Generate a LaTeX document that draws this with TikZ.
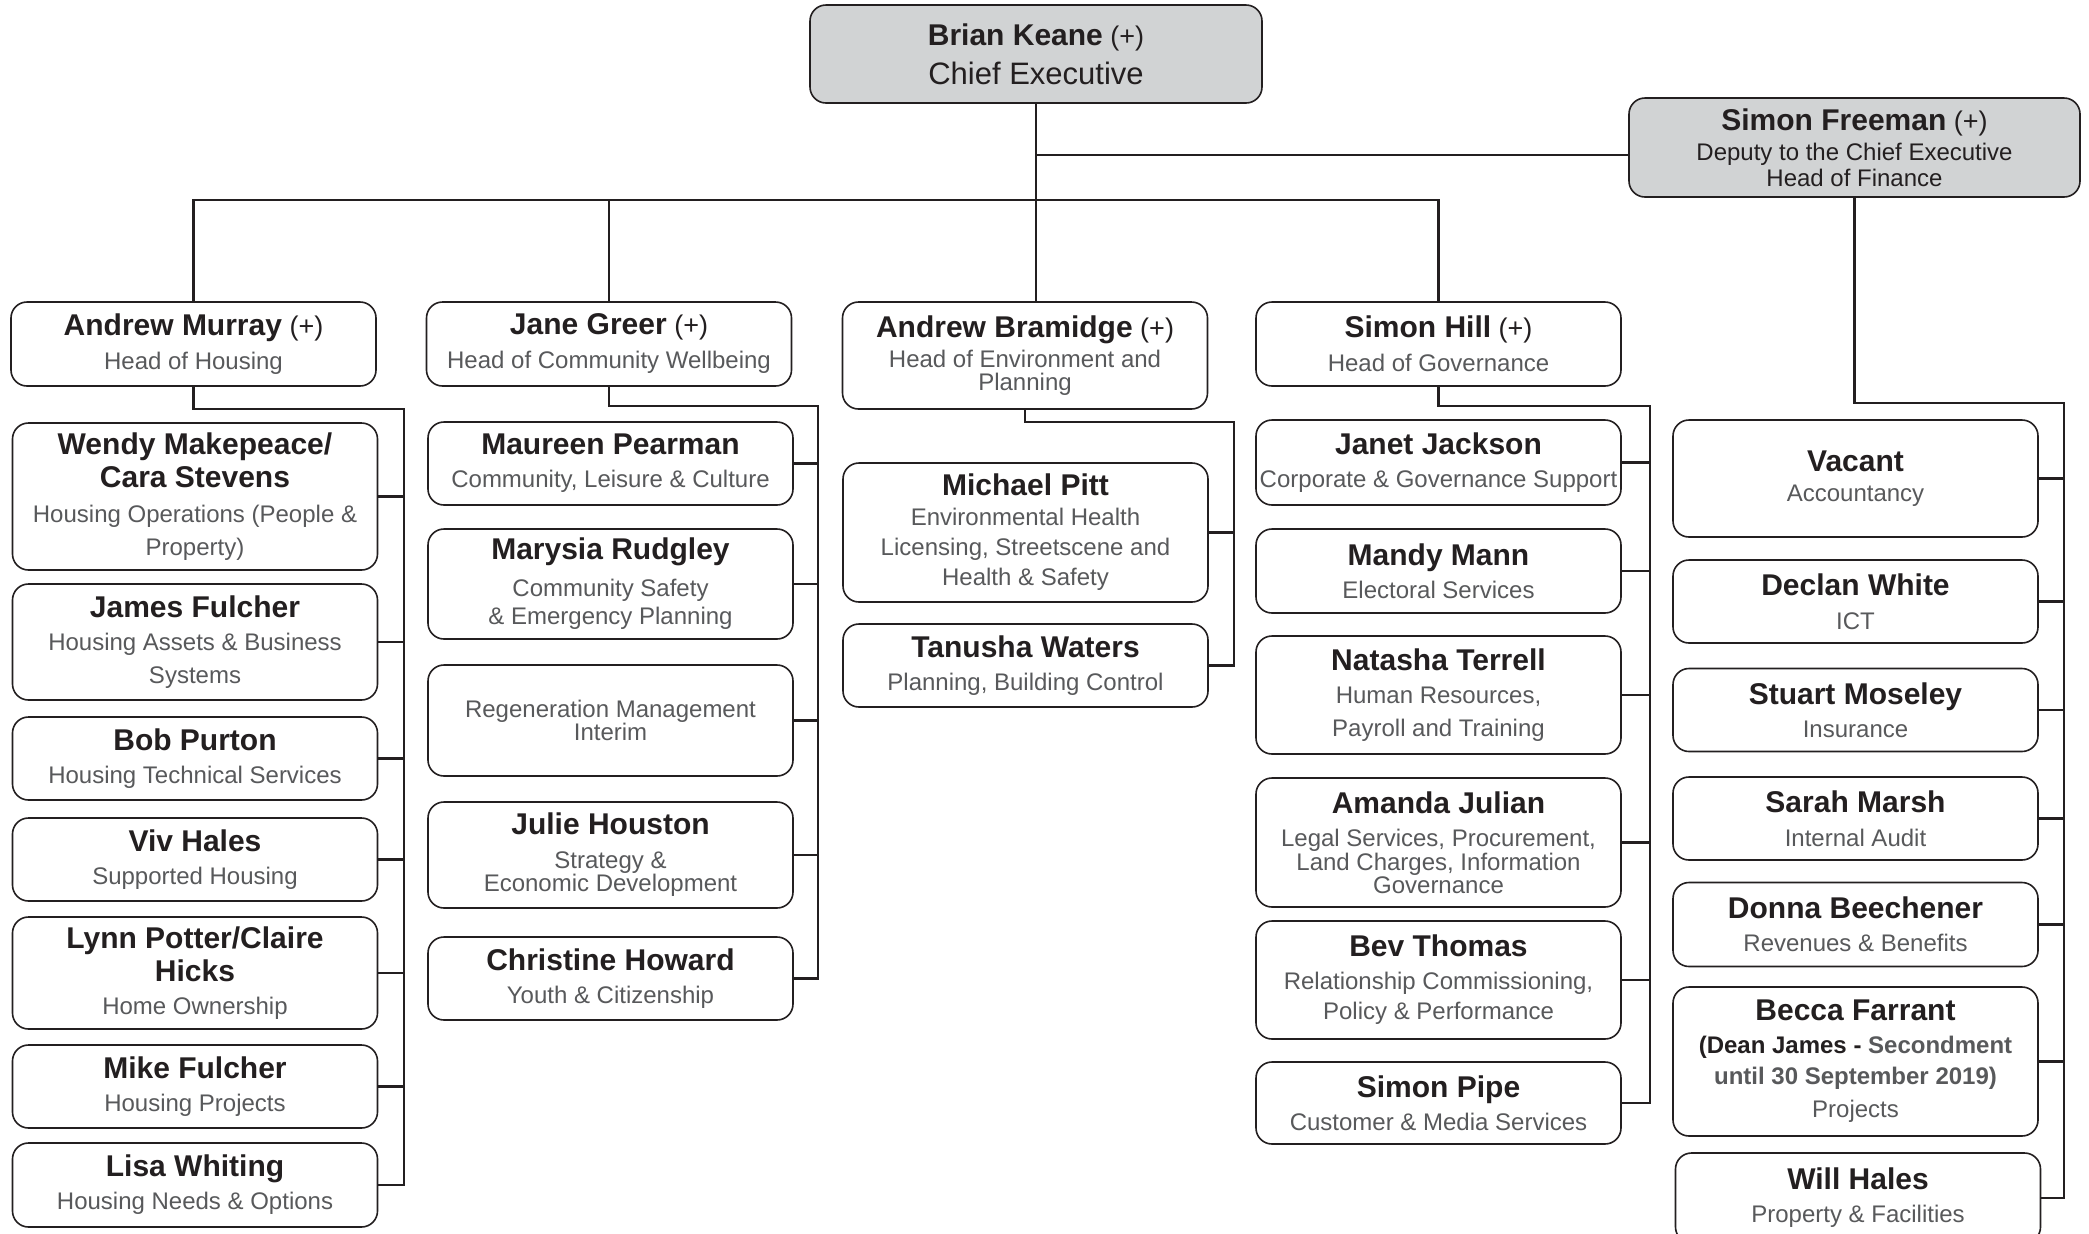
\documentclass[tikz,border=0pt]{standalone}
\usepackage{fontspec}
\setmainfont{Liberation Sans}
\usepackage{xcolor}
\usepackage{tikz}

\definecolor{namec}{HTML}{231F20}
\definecolor{rolec}{HTML}{58595B}
\definecolor{headfill}{HTML}{D1D3D4}
\newcommand{\pname}[1]{{\fontsize{15}{16.5}\selectfont\bfseries\color{namec}#1}}
\newcommand{\hasplus}{{\fontsize{13.5}{16.5}\selectfont\color{namec}\ (+)}}

\begin{document}
\begin{tikzpicture}[x=0.5pt,y=-0.5pt,
	box/.style={draw=namec,line width=0.8pt,rounded corners=8pt,fill=white,align=center,
		minimum width=182.5pt,inner sep=1pt,outer sep=0pt,text=rolec,font=\fontsize{12}{16.5}\selectfont},
	topbox/.style={box,fill=headfill,text=namec},
	link/.style={draw=namec,line width=1.3pt}]
	\useasboundingbox (0,0) rectangle (2089,1233);
	\clip (0,0) rectangle (2089,1233);
	%顶层
	\node[topbox,minimum width=226pt,minimum height=49pt] (bk) at (1036,54) {\pname{Brian Keane}\hasplus\\[3pt]{\fontsize{15.5}{16.5}\selectfont Chief Executive}};
	\node[topbox,minimum width=225.5pt,minimum height=49.5pt] (sf) at (1854.5,147.5) {\pname{Simon Freeman}\hasplus\\[-1.5pt]Deputy to the Chief Executive\\[-3.5pt]Head of Finance};
	%部门负责人
	\node[box,minimum height=42pt] (am) at (193.5,344) {\pname{Andrew Murray}\hasplus\\[0.5pt]Head of Housing};
	\node[box,minimum height=42pt] (jg) at (609,344) {\pname{Jane Greer}\hasplus\\[0.5pt]Head of Community Wellbeing};
	\node[box,minimum height=53.5pt] (ab) at (1025,355.5) {\pname{Andrew Bramidge}\hasplus\\[-1.5pt]Head of Environment and\\[-5pt]Planning};
	\node[box,minimum height=42pt] (sh) at (1438.5,344) {\pname{Simon Hill}\hasplus\\[0.5pt]Head of Governance};
	\coordinate (bus) at (1036,200);
	\coordinate (tap) at (1036,155);
	\draw[link] (bk.south) -- (bk.south |- ab.north);
	\draw[link] (am.north) |- (bus) -| (sh.north);
	\draw[link] (jg.north) -- (jg.north |- bus);
	\draw[link] (tap) -- (tap -| sf.west);
	%第一列
	\node[box,minimum height=73.5pt] (wm) at (195,496.5) {\pname{Wendy Makepeace/}\\\pname{Cara Stevens}\\[1pt]Housing Operations (People \&\\Property)};
	\node[box,minimum height=58pt] (jf) at (195,642) {\pname{James Fulcher}\\Housing Assets \& Business\\Systems};
	\node[box,minimum height=41.5pt] (bp) at (195,758.5) {\pname{Bob Purton}\\Housing Technical Services};
	\node[box,minimum height=41.5pt] (vh) at (195,859.5) {\pname{Viv Hales}\\Supported Housing};
	\node[box,minimum height=56pt] (lp) at (195,973) {\pname{Lynn Potter/Claire}\\\pname{Hicks}\\Home Ownership};
	\node[box,minimum height=41.5pt] (mf) at (195,1086.5) {\pname{Mike Fulcher}\\Housing Projects};
	\node[box,minimum height=42pt] (lw) at (195,1185) {\pname{Lisa Whiting}\\Housing Needs \& Options};
	\coordinate (c1) at (404,409);
	\draw[link] (am.south) |- (c1) |- (lw.east);
	\foreach \n in {wm,jf,bp,vh,lp,mf}
		\draw[link] (\n.east) -- (\n.east -| c1);
	%第二列
	\node[box,minimum height=41.5pt] (mp) at (610.5,463.5) {\pname{Maureen Pearman}\\Community, Leisure \& Culture};
	\node[box,minimum height=55pt] (mr) at (610.5,584) {\pname{Marysia Rudgley}\\[2pt]Community Safety\\[-2.5pt]\& Emergency Planning};
	\node[box,minimum height=55.5pt] (rm) at (610.5,720.5) {Regeneration Management\\[-5pt]Interim};
	\node[box,minimum height=53pt] (jh) at (610.5,855) {\pname{Julie Houston}\\[0.5pt]Strategy \&\\[-5pt]Economic Development};
	\node[box,minimum height=41.5pt] (ch) at (610.5,978.5) {\pname{Christine Howard}\\Youth \& Citizenship};
	\coordinate (c2) at (818,406);
	\draw[link] (jg.south) |- (c2) |- (ch.east);
	\foreach \n in {mp,mr,rm,jh}
		\draw[link] (\n.east) -- (\n.east -| c2);
	%第三列
	\node[box,minimum height=69.5pt] (mpi) at (1025.5,532.5) {\pname{Michael Pitt}\\[-1.5pt]Environmental Health\\[-1.5pt]Licensing, Streetscene and\\[-1.5pt]Health \& Safety};
	\node[box,minimum height=41.5pt] (tw) at (1025.5,665.5) {\pname{Tanusha Waters}\\Planning, Building Control};
	\coordinate (c3) at (1234,422);
	\draw[link] (ab.south) |- (c3) |- (tw.east);
	\draw[link] (mpi.east) -- (mpi.east -| c3);
	%第四列
	\node[box,minimum height=42.5pt] (jj) at (1438.5,462.5) {\pname{Janet Jackson}\\Corporate \& Governance Support};
	\node[box,minimum height=42pt] (mm) at (1438.5,571) {\pname{Mandy Mann}\\Electoral Services};
	\node[box,minimum height=59pt] (nt) at (1438.5,695) {\pname{Natasha Terrell}\\Human Resources,\\Payroll and Training};
	\node[box,minimum height=64.5pt] (aj) at (1438.5,842.5) {\pname{Amanda Julian}\\Legal Services, Procurement,\\[-4.5pt]Land Charges, Information\\[-5pt]Governance};
	\node[box,minimum height=59pt] (bt) at (1438.5,980) {\pname{Bev Thomas}\\Relationship Commissioning,\\[-1.5pt]Policy \& Performance};
	\node[box,minimum height=41pt] (sp) at (1438.5,1103) {\pname{Simon Pipe}\\Customer \& Media Services};
	\coordinate (c4) at (1650,406);
	\draw[link] (sh.south) |- (c4) |- (sp.east);
	\foreach \n in {jj,mm,nt,aj,bt}
		\draw[link] (\n.east) -- (\n.east -| c4);
	%第五列
	\node[box,minimum height=58.5pt] (vac) at (1855.5,478.5) {\pname{Vacant}\\[-1.5pt]Accountancy};
	\node[box,minimum height=41.5pt] (dw) at (1855.5,601.5) {\pname{Declan White}\\[0.5pt]ICT};
	\node[box,minimum height=41.5pt] (sm) at (1855.5,710) {\pname{Stuart Moseley}\\Insurance};
	\node[box,minimum height=41.5pt] (sma) at (1855.5,818.5) {\pname{Sarah Marsh}\\[0.5pt]Internal Audit};
	\node[box,minimum height=42pt] (db) at (1855.5,924.5) {\pname{Donna Beechener}\\Revenues \& Benefits};
	\node[box,minimum height=74.5pt] (bf) at (1855.5,1061.5) {\pname{Becca Farrant}\\{\bfseries\color{namec}(Dean James -} {\bfseries Secondment}\\[-1pt]{\bfseries until 30 September 2019)}\\Projects};
	\node[box,minimum height=45pt] (wh) at (1858,1198) {\pname{Will Hales}\\Property \& Facilities};
	\coordinate (c5) at (2064,403);
	\draw[link] (sf.south) |- (c5) |- (wh.east);
	\foreach \n in {vac,dw,sm,sma,db,bf}
		\draw[link] (\n.east) -- (\n.east -| c5);
\end{tikzpicture}
\end{document}
